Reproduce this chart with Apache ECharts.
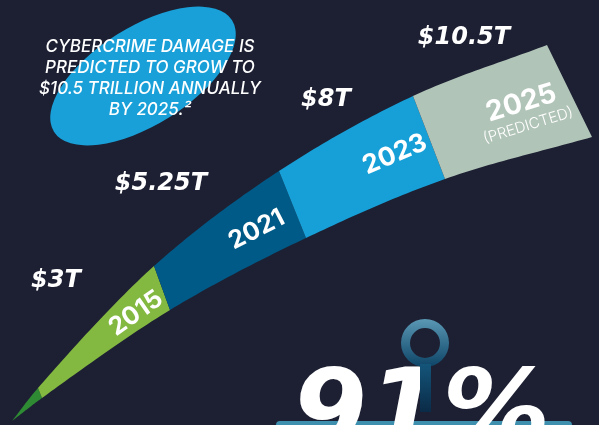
<!DOCTYPE html>
<html><head><meta charset="utf-8">
<script src="https://cdn.jsdelivr.net/npm/echarts@6/dist/echarts.min.js"></script>
<style>html,body{margin:0;padding:0;background:#1d2033;} #c{width:599px;height:425px;}</style>
</head><body><div id="c"></div>
<script>
// ---------- data ----------
const years = ['2015', '2021', '2023', '2025'];
const values = [3, 5.25, 8, 10.5];
const valueLabels = ['$3T', '$5.25T', '$8T', '$10.5T'];
const subLabels = ['', '', '', '(PREDICTED)'];
const headline = ['CYBERCRIME DAMAGE IS', 'PREDICTED TO GROW TO', '$10.5 TRILLION ANNUALLY', 'BY 2025.²'];
const bigStat = '91%';

// ---------- layout & style ----------
const TRACK_TOP = [[12,421],[38,388],[154,266],[279,171],[413,96],[547,45]];
const TRACK_BOT = [[12,421],[42,398],[170,310],[306,238],[445,179],[592,137]];
const SEG_COLORS = ['#84b941', '#005a87', '#17a0d7', '#b1c4b8'];
const TIP_COLOR = '#2f8a34';
const YEAR_POS = [[0.78,0.56],[0.72,0.53],[0.75,0.5],[0.66,0.55]]; // fraction along, fraction across
const YEAR_ROT = [35, 27, 23, 17];
const YEAR_SIZE = [25, 25, 26, 28];
const VALUE_POS = [[56,281],[161,184],[326,100],[464,38]];
const BG = '#1d2033';

function dist(a,b){return Math.hypot(a[0]-b[0],a[1]-b[1]);}
function crSpan(P, i, n){
  const L = P.length;
  const p1 = P[i], p2 = P[i+1];
  const p0 = i > 0 ? P[i-1] : [2*p1[0]-p2[0], 2*p1[1]-p2[1]];
  const p3 = i+2 < L ? P[i+2] : [2*p2[0]-p1[0], 2*p2[1]-p1[1]];
  const a = 0.5;
  const t0 = 0, t1 = t0 + Math.pow(dist(p0,p1),a), t2 = t1 + Math.pow(dist(p1,p2),a), t3 = t2 + Math.pow(dist(p2,p3),a);
  const lerp = (pa, pb, ta, tb, t) => [ (tb-t)/(tb-ta)*pa[0] + (t-ta)/(tb-ta)*pb[0], (tb-t)/(tb-ta)*pa[1] + (t-ta)/(tb-ta)*pb[1] ];
  const out = [];
  for (let k = 0; k <= n; k++) {
    const t = t1 + (t2-t1)*k/n;
    const A1 = lerp(p0,p1,t0,t1,t), A2 = lerp(p1,p2,t1,t2,t), A3 = lerp(p2,p3,t2,t3,t);
    const B1 = lerp(A1,A2,t0,t2,t), B2 = lerp(A2,A3,t1,t3,t);
    out.push(lerp(B1,B2,t1,t2,t));
  }
  return out;
}
function segPolygon(a, api){
  const top = crSpan(TRACK_TOP, a, 30);
  const bot = crSpan(TRACK_BOT, a, 30).reverse();
  return top.concat(bot).map(p => api.coord(p));
}

const chart = echarts.init(document.getElementById('c'), null, {renderer: 'canvas'});

const headlineGraphics = headline.map((line, k) => ({
  type: 'text', z: 1, x: 150, y: 47 + k*21,
  style: { text: line, fill: '#ffffff', font: 'italic 500 17px Inter', align: 'center', verticalAlign: 'middle' }
}));

const option = {
  backgroundColor: BG,
  animation: false,
  grid: { left: 0, right: 0, top: 0, bottom: 0 },
  xAxis: { type: 'value', min: 0, max: 599, show: false },
  yAxis: { type: 'value', min: 0, max: 425, inverse: true, show: false },
  series: [{
    type: 'custom',
    z: 2,
    data: years.map((y, i) => [i, values[i]]),
    renderItem: function (params, api) {
      const i = params.dataIndex;
      const children = [];
      if (i === 0) {
        children.push({ type: 'polygon', shape: { points: segPolygon(0, api) }, style: { fill: TIP_COLOR } });
      }
      children.push({ type: 'polygon', shape: { points: segPolygon(i + 1, api) }, style: { fill: SEG_COLORS[i] } });
      // year label
      const f = YEAR_POS[i][0], g = YEAR_POS[i][1];
      const ta = TRACK_TOP[i+1], tb = TRACK_TOP[i+2], ba = TRACK_BOT[i+1], bb = TRACK_BOT[i+2];
      const tp = [ta[0] + (tb[0]-ta[0])*f, ta[1] + (tb[1]-ta[1])*f];
      const bp = [ba[0] + (bb[0]-ba[0])*f, ba[1] + (bb[1]-ba[1])*f];
      const c = api.coord([tp[0] + (bp[0]-tp[0])*g, tp[1] + (bp[1]-tp[1])*g]);
      const txt = subLabels[i] ? '{a|' + years[i] + '}\n{b|' + subLabels[i] + '}' : '{a|' + years[i] + '}';
      children.push({
        type: 'text', x: c[0], y: c[1], rotation: YEAR_ROT[i] * Math.PI / 180,
        style: {
          text: txt, align: 'center', verticalAlign: 'middle',
          rich: {
            a: { fill: '#ffffff', fontFamily: 'Inter', fontWeight: 'bold', fontSize: YEAR_SIZE[i], lineHeight: YEAR_SIZE[i] + 2, align: 'center' },
            b: { fill: '#ffffff', fontFamily: 'Inter', fontWeight: 300, fontSize: 15, lineHeight: 17, align: 'center' }
          }
        }
      });
      // value label
      const v = api.coord(VALUE_POS[i]);
      children.push({
        type: 'text', x: v[0], y: v[1],
        style: { text: valueLabels[i], fill: '#ffffff', font: 'italic bold 24px "DejaVu Sans"', align: 'center', verticalAlign: 'middle' }
      });
      return { type: 'group', children: children };
    }
  }],
  graphic: [
    { type: 'circle', z: 0, x: 143, y: 76, rotation: 32 * Math.PI / 180, scaleX: 105 / 49,
      shape: { cx: 0, cy: 0, r: 49 }, style: { fill: '#19a0d8' } },
    ...headlineGraphics,
    { type: 'rect', z: 5, shape: { x: 276, y: 421, width: 296, height: 10, r: 4 }, style: { fill: '#3f8fae' } },
    { type: 'text', z: 6, x: 292, y: 418,
      style: { text: bigStat, fill: '#ffffff', font: 'italic bold 108px "DejaVu Sans"', align: 'left', verticalAlign: 'middle' } },
    { type: 'ring', z: 7, shape: { cx: 425, cy: 343, r: 24, r0: 15 },
      style: { fill: new echarts.graphic.LinearGradient(0, 0, 0, 1, [{offset: 0, color: '#5a98b4'}, {offset: 1, color: '#0d4467'}]) } },
    { type: 'rect', z: 7, shape: { x: 420, y: 364, width: 11, height: 48 },
      style: { fill: new echarts.graphic.LinearGradient(0, 0, 0, 1, [{offset: 0, color: '#14557a'}, {offset: 1, color: '#0a2b47'}]) } }
  ]
};
chart.setOption(option);
</script>
</body></html>
